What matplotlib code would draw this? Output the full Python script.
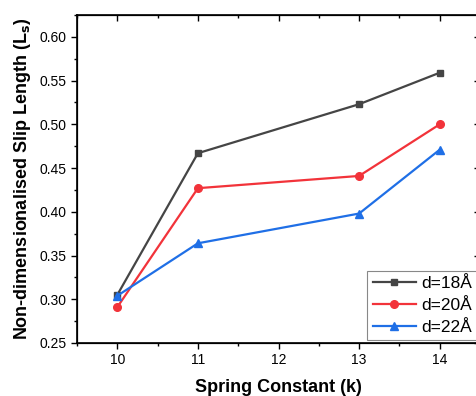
import matplotlib.pyplot as plt
from matplotlib.ticker import MultipleLocator

plt.rcParams['font.family'] = ['Liberation Sans', 'DejaVu Sans']

k = [10, 11, 13, 14]
d18 = [0.305, 0.467, 0.523, 0.559]
d20 = [0.291, 0.427, 0.441, 0.500]
d22 = [0.304, 0.364, 0.398, 0.471]

fig = plt.figure(figsize=(4.77, 3.96), dpi=100)
# right edge of the original plot is cut off, so the axes run past the figure
ax = fig.add_axes([77/477, 1 - 343/396, (480 - 77)/477, (343 - 15)/396])

ax.plot(k, d18, color='#454545', marker='s', ms=5, lw=1.6, label='d=18Å')
ax.plot(k, d20, color='#f2333a', marker='o', ms=5.5, lw=1.6, label='d=20Å')
ax.plot(k, d22, color='#1f6fe6', marker='^', ms=5.5, lw=1.6, label='d=22Å')

ax.set_xlim(9.5, 14.5)
ax.set_ylim(0.25, 0.625)


def set_ticks(a):
    a.xaxis.set_major_locator(MultipleLocator(1))
    a.xaxis.set_minor_locator(MultipleLocator(0.5))
    a.yaxis.set_major_locator(MultipleLocator(0.05))
    a.yaxis.set_minor_locator(MultipleLocator(0.025))
    a.tick_params(which='major', length=4, width=1)
    a.tick_params(which='minor', length=2.5, width=1)


set_ticks(ax)
ax.yaxis.set_major_formatter(plt.FormatStrFormatter('%.2f'))
ax.tick_params(which='both', direction='out', top=False, right=False, labelsize=10)
for s in ax.spines.values():
    s.set_linewidth(1.2)

# inward mirror ticks on top and right
tx = ax.twiny()
tx.set_xlim(ax.get_xlim())
ty = ax.twinx()
ty.set_ylim(ax.get_ylim())
for a in (tx, ty):
    set_ticks(a)
    a.tick_params(which='both', direction='in', labeltop=False, labelright=False,
                  labelbottom=False, labelleft=False, bottom=False, left=False)
tx.tick_params(which='both', right=False, top=True)
ty.tick_params(which='both', top=False, right=True)

ax.set_xlabel('Spring Constant (k)', fontsize=13, fontweight='bold', labelpad=8)
ax.set_ylabel('Non-dimensionalised Slip Length (L$_\\mathbf{s}$)', fontsize=13,
              fontweight='bold', labelpad=5)

leg = ty.legend(*ax.get_legend_handles_labels(), loc='lower right', fontsize=12.5,
                fancybox=False, framealpha=1, edgecolor='#888888', borderpad=0.3,
                labelspacing=0.4, handlelength=2.5, handletextpad=0.3,
                borderaxespad=0.15)
leg.get_frame().set_linewidth(0.8)

fig.savefig('out.png', dpi=100)
